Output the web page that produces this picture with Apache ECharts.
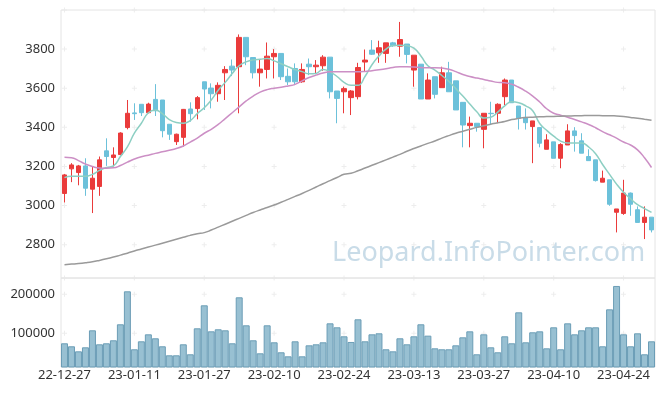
<!DOCTYPE html>
<html><head><meta charset="utf-8">
<script src="https://cdn.jsdelivr.net/npm/echarts@6/dist/echarts.min.js"></script>
<style>html,body{margin:0;padding:0;background:#fff}#c{width:665px;height:396px}</style>
</head><body><div id="c"></div>
<script>
const dates = ['22-12-27','22-12-28','22-12-29','23-01-02','23-01-03','23-01-04','23-01-05','23-01-06','23-01-09','23-01-10','23-01-11','23-01-12','23-01-13','23-01-16','23-01-17','23-01-18','23-01-19','23-01-20','23-01-25','23-01-26','23-01-27','23-01-30','23-01-31','23-02-01','23-02-02','23-02-03','23-02-06','23-02-07','23-02-08','23-02-09','23-02-10','23-02-13','23-02-14','23-02-15','23-02-16','23-02-17','23-02-20','23-02-21','23-02-22','23-02-23','23-02-24','23-02-27','23-02-28','23-03-02','23-03-03','23-03-06','23-03-07','23-03-08','23-03-09','23-03-10','23-03-13','23-03-14','23-03-15','23-03-16','23-03-17','23-03-20','23-03-21','23-03-22','23-03-23','23-03-24','23-03-27','23-03-28','23-03-29','23-03-30','23-03-31','23-04-03','23-04-04','23-04-05','23-04-06','23-04-07','23-04-10','23-04-11','23-04-12','23-04-13','23-04-14','23-04-17','23-04-18','23-04-19','23-04-20','23-04-21','23-04-24','23-04-25','23-04-26','23-04-27','23-04-28'];
const xLabels = ['22-12-27','23-01-11','23-01-27','23-02-10','23-02-24','23-03-13','23-03-27','23-04-10','23-04-24'];

const openP  = [3062,3188,3169,3203,3084,3098,3280,3246,3261,3399,3474,3518,3475,3543,3540,3416,3327,3349,3494,3496,3633,3601,3572,3679,3713,3710,3860,3757,3679,3696,3761,3778,3661,3701,3633,3723,3710,3715,3759,3586,3582,3552,3557,3734,3795,3781,3778,3832,3815,3826,3693,3723,3545,3659,3603,3679,3638,3528,3409,3421,3390,3472,3472,3557,3642,3509,3451,3404,3399,3288,3326,3242,3310,3382,3331,3251,3234,3120,3132,2966,2960,3064,2979,2914,2941];
const closeP = [3157,3208,3203,3089,3140,3234,3251,3259,3371,3472,3470,3475,3519,3485,3383,3365,3365,3492,3470,3552,3596,3572,3615,3696,3693,3860,3761,3679,3698,3764,3778,3659,3633,3633,3696,3710,3718,3759,3582,3548,3598,3586,3706,3744,3774,3807,3832,3817,3849,3773,3769,3545,3642,3569,3679,3582,3489,3412,3421,3404,3472,3470,3518,3642,3526,3446,3424,3433,3319,3336,3242,3312,3382,3358,3268,3230,3128,3140,3007,2983,3064,3007,2914,2941,2876];
const lowP   = [3016,3120,3104,3050,2962,3050,3203,3200,3258,3390,3438,3458,3472,3458,3349,3336,3310,3302,3429,3441,3489,3497,3531,3540,3662,3472,3718,3650,3608,3650,3650,3642,3616,3616,3628,3667,3672,3689,3548,3421,3472,3463,3543,3684,3770,3730,3730,3812,3761,3727,3608,3545,3545,3548,3603,3582,3489,3298,3298,3378,3293,3412,3421,3514,3526,3389,3389,3217,3298,3288,3242,3191,3310,3276,3268,3230,3123,3120,2999,2863,2953,2948,2914,2829,2863];
const highP  = [3162,3217,3208,3242,3200,3251,3344,3298,3375,3540,3523,3518,3526,3621,3540,3416,3368,3494,3528,3560,3633,3625,3630,3713,3747,3875,3860,3757,3747,3834,3800,3778,3701,3727,3727,3752,3744,3769,3759,3586,3608,3591,3730,3798,3846,3843,3832,3837,3939,3826,3769,3723,3676,3659,3710,3735,3638,3528,3455,3421,3472,3531,3523,3650,3642,3509,3497,3433,3399,3365,3326,3319,3416,3401,3370,3288,3234,3179,3132,2983,3132,3067,2996,2996,2941];

const ma5  = [3143,3150,3150,3150,3160,3180,3195,3203,3251,3300,3370,3421,3475,3489,3470,3440,3425,3421,3435,3470,3500,3540,3590,3630,3675,3715,3735,3745,3748,3752,3740,3725,3710,3695,3685,3674,3676,3696,3684,3660,3630,3615,3615,3660,3720,3765,3800,3818,3820,3818,3805,3765,3715,3693,3665,3635,3598,3560,3520,3480,3448,3452,3478,3510,3531,3526,3510,3485,3420,3385,3355,3330,3320,3320,3320,3300,3265,3210,3160,3110,3068,3035,3005,2985,2965];
const ma20 = [3247,3245,3230,3213,3200,3192,3191,3193,3205,3222,3238,3250,3258,3267,3275,3283,3292,3305,3325,3345,3370,3390,3415,3445,3475,3505,3535,3560,3580,3593,3600,3605,3612,3620,3638,3655,3667,3678,3684,3684,3684,3684,3684,3686,3690,3694,3700,3706,3710,3710,3709,3706,3705,3705,3703,3697,3685,3670,3660,3652,3645,3637,3630,3628,3620,3605,3585,3560,3530,3495,3472,3462,3452,3440,3428,3415,3398,3378,3362,3345,3325,3310,3285,3245,3195];
const ma60 = [2698,2701,2704,2708,2713,2720,2728,2737,2747,2757,2768,2778,2788,2798,2808,2818,2828,2838,2848,2856,2862,2875,2890,2905,2920,2935,2950,2965,2978,2990,3003,3017,3032,3047,3062,3078,3095,3112,3128,3144,3160,3165,3178,3192,3206,3220,3234,3248,3262,3278,3292,3305,3318,3330,3345,3358,3370,3380,3390,3400,3408,3416,3424,3430,3440,3446,3450,3452,3454,3455,3456,3457,3458,3459,3460,3461,3461,3460,3460,3458,3455,3451,3447,3442,3437];

const volume = [74400,66700,53800,64100,107700,71800,74400,82100,123100,207700,59000,79500,97400,87200,66700,43600,43600,71800,46200,112800,171800,105100,110300,107700,74400,192300,120500,82100,48700,120500,76900,51300,41000,79500,41000,69200,71800,76900,125600,115400,92300,77800,135900,79500,97400,100000,59000,53800,87200,71800,92300,123100,94000,61500,59000,59000,69200,89700,105100,46200,97400,64100,51300,92300,74400,153800,76900,102600,105100,61500,115400,59000,125600,97400,107700,115400,115400,66700,161500,221400,97400,66700,100000,46200,79500];

const priceTicks = [2630,2800,3000,3200,3400,3600,3800,4000];
const volumeTicks = [100000,200000];

const candles = dates.map((d,i)=>[openP[i],closeP[i],lowP[i],highP[i]]);
const crossPath = 'path://M2,0h1v5h-1z M0,2h5v1h-5z';
const crossIdx = xLabels.map(l=>dates.indexOf(l));
const crossMain = [], crossVol = [];
crossIdx.forEach(ix=>{
  priceTicks.forEach(v=>crossMain.push([ix,v]));
  volumeTicks.forEach(v=>crossVol.push([ix,v]));
});

const FONT = 'Noto Sans';
const plain = v => String(v);
const chart = echarts.init(document.getElementById('c'), null, {renderer:'canvas'});
chart.setOption({
  animation:false,
  backgroundColor:'#fff',
  textStyle:{fontFamily:FONT},
  grid:[
    {left:61, right:10, top:10, height:268, show:true, borderColor:'#e4e4e4', borderWidth:1, backgroundColor:'transparent'},
    {left:61, right:10, top:278, height:89, show:true, borderColor:'#e4e4e4', borderWidth:1, backgroundColor:'transparent'}
  ],
  graphic:[{
    type:'text', x:332, y:240, z:1, silent:true,
    style:{text:'Leopard.InfoPointer.com', font:'27px "Noto Sans"', fill:'#c9dce8', textAlign:'left', textVerticalAlign:'top'}
  }],
  xAxis:[
    {type:'category', gridIndex:0, data:dates, boundaryGap:true,
     axisLine:{show:false}, axisTick:{show:false}, axisLabel:{show:false}, splitLine:{show:false}},
    {type:'category', gridIndex:1, data:dates, boundaryGap:true,
     axisLine:{show:false}, axisTick:{show:false}, splitLine:{show:false},
     axisLabel:{interval:(i,v)=>xLabels.includes(v), color:'#333', fontSize:13, margin:2, fontFamily:FONT}}
  ],
  yAxis:[
    {type:'value', gridIndex:0, min:2630, max:4000, splitNumber:7, scale:true,
     axisLine:{show:false}, axisTick:{show:false}, splitLine:{show:false},
     axisLabel:{formatter:plain, showMinLabel:false, showMaxLabel:false, color:'#333', fontSize:13, margin:6, fontFamily:FONT}},
    {type:'value', gridIndex:1, min:13600, max:241800, splitNumber:2, scale:true,
     axisLine:{show:false}, axisTick:{show:false}, splitLine:{show:false},
     axisLabel:{formatter:plain, showMinLabel:false, showMaxLabel:false, color:'#333', fontSize:13, margin:6, fontFamily:FONT}}
  ],
  series:[
    {type:'scatter', xAxisIndex:0, yAxisIndex:0, data:crossMain, symbol:crossPath, symbolSize:5, silent:true, z:0,
     itemStyle:{color:'#e8e8e8'}},
    {type:'scatter', xAxisIndex:1, yAxisIndex:1, data:crossVol, symbol:crossPath, symbolSize:5, silent:true, z:0,
     itemStyle:{color:'#e8e8e8'}},
    {type:'candlestick', xAxisIndex:0, yAxisIndex:0, data:candles, barWidth:5, z:3,
     itemStyle:{color:'#ea3b3b', color0:'#6cc1da', borderColor:'#ea3b3b', borderColor0:'#6cc1da', borderWidth:1}},
    {type:'line', xAxisIndex:0, yAxisIndex:0, data:ma5, smooth:true, showSymbol:false, symbol:'none', z:4,
     lineStyle:{color:'#8dcfc3', width:1.5}},
    {type:'line', xAxisIndex:0, yAxisIndex:0, data:ma20, smooth:true, showSymbol:false, symbol:'none', z:4,
     lineStyle:{color:'#cc8fc5', width:1.5}},
    {type:'line', xAxisIndex:0, yAxisIndex:0, data:ma60, smooth:true, showSymbol:false, symbol:'none', z:4,
     lineStyle:{color:'#9a9a9a', width:1.5}},
    {type:'bar', xAxisIndex:1, yAxisIndex:1, data:volume, barCategoryGap:'0%', z:3,
     itemStyle:{color:'#98c0d2', borderColor:'#6b9db6', borderWidth:1}}
  ]
});
</script>
</body></html>
